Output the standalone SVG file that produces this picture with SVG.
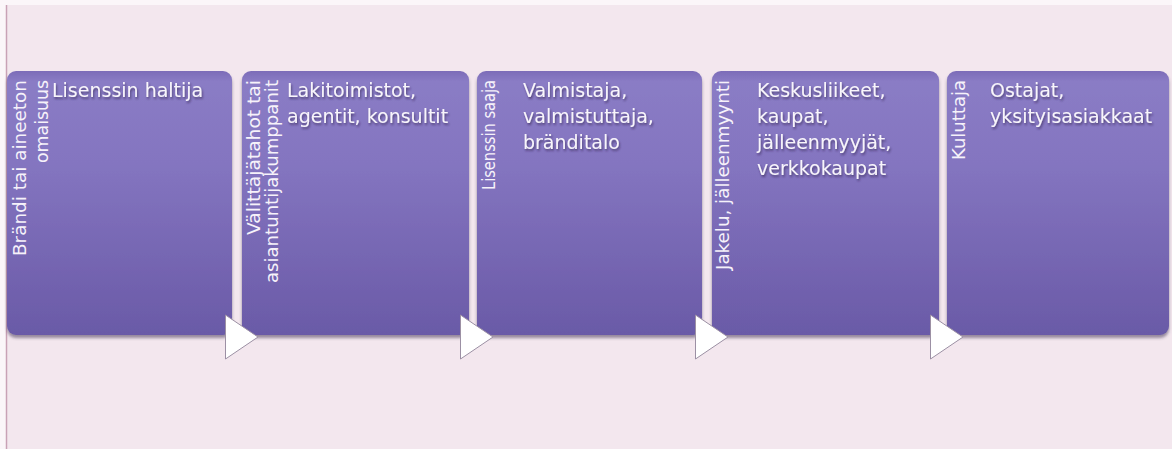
<svg xmlns="http://www.w3.org/2000/svg" width="1172" height="449" viewBox="0 0 1172 449">
  <defs>
    <linearGradient id="boxGrad" x1="0" y1="0" x2="0" y2="1">
      <stop offset="0" stop-color="#7c6cb8"/>
      <stop offset="0.04" stop-color="#8a7cc5"/>
      <stop offset="0.35" stop-color="#8475c0"/>
      <stop offset="1" stop-color="#6a5aa7"/>
    </linearGradient>
    <filter id="boxShadow" x="-5%" y="-5%" width="110%" height="115%">
      <feDropShadow dx="0" dy="3" stdDeviation="1.8" flood-color="#4a3a58" flood-opacity="0.55"/>
    </filter>
    <filter id="textShadow" x="-5%" y="-20%" width="110%" height="150%">
      <feDropShadow dx="1" dy="2" stdDeviation="1" flood-color="#2a1d4a" flood-opacity="0.6"/>
    </filter>
  </defs>
  <style>
    .box { fill: url(#boxGrad); filter: url(#boxShadow); }
    .vt { font-family: "DejaVu Sans", "Liberation Sans", sans-serif; font-size: 17px; fill: #f6f2fa; text-anchor: end; }
    .mt { font-family: "DejaVu Sans", "Liberation Sans", sans-serif; font-size: 19px; fill: #f8f5fb; filter: url(#textShadow); }
    .arrow { fill: #ffffff; stroke: #9c90a4; stroke-width: 1; stroke-linejoin: miter; }
  </style>

  <rect x="0" y="0" width="1172" height="449" fill="#fbf6f9"/>
  <rect x="6" y="5" width="1166" height="444" fill="#f3e7ee"/>
  <line x1="6.5" y1="5" x2="6.5" y2="449" stroke="#c9a2b6" stroke-width="1.5"/>

  <g id="node1">
    <rect class="box" x="7" y="71" width="225" height="264" rx="9"/>
    <text class="vt" transform="translate(26,80) rotate(-90)" textLength="176" lengthAdjust="spacingAndGlyphs">Brändi tai aineeton</text>
    <text class="vt" transform="translate(48,80) rotate(-90)" textLength="83" lengthAdjust="spacingAndGlyphs">omaisuus</text>
    <text class="mt" x="52" y="97">Lisenssin haltija</text>
  </g>

  <g id="node2">
    <rect class="box" x="242" y="71" width="227" height="264" rx="9"/>
    <text class="vt" transform="translate(260,80) rotate(-90)" textLength="155" lengthAdjust="spacingAndGlyphs">Välittäjätahot tai</text>
    <text class="vt" transform="translate(278,80) rotate(-90)" textLength="203" lengthAdjust="spacingAndGlyphs">asiantuntijakumppanit</text>
    <text class="mt" x="287" y="97">Lakitoimistot,</text>
    <text class="mt" x="287" y="123">agentit, konsultit</text>
  </g>

  <g id="node3">
    <rect class="box" x="477" y="71" width="225" height="264" rx="9"/>
    <text class="vt" transform="translate(495,80) rotate(-90)" textLength="110" lengthAdjust="spacingAndGlyphs">Lisenssin saaja</text>
    <text class="mt" x="523" y="97">Valmistaja,</text>
    <text class="mt" x="523" y="123">valmistuttaja,</text>
    <text class="mt" x="523" y="149">bränditalo</text>
  </g>

  <g id="node4">
    <rect class="box" x="712" y="71" width="227" height="264" rx="9"/>
    <text class="vt" transform="translate(729,80) rotate(-90)" textLength="190" lengthAdjust="spacingAndGlyphs">Jakelu, jälleenmyynti</text>
    <text class="mt" x="757" y="97">Keskusliikeet,</text>
    <text class="mt" x="757" y="123">kaupat,</text>
    <text class="mt" x="757" y="149">jälleenmyyjät,</text>
    <text class="mt" x="757" y="175">verkkokaupat</text>
  </g>

  <g id="node5">
    <rect class="box" x="947" y="71" width="222" height="264" rx="9"/>
    <text class="vt" transform="translate(965,80) rotate(-90)" textLength="80" lengthAdjust="spacingAndGlyphs">Kuluttaja</text>
    <text class="mt" x="990" y="97">Ostajat,</text>
    <text class="mt" x="990" y="123">yksityisasiakkaat</text>
  </g>

  <g id="connectors">
    <polygon class="arrow" points="225.5,315 258,337 225.5,359"/>
    <polygon class="arrow" points="460.5,315 493,337 460.5,359"/>
    <polygon class="arrow" points="695.5,315 728,337 695.5,359"/>
    <polygon class="arrow" points="930.5,315 963,337 930.5,359"/>
  </g>
</svg>
